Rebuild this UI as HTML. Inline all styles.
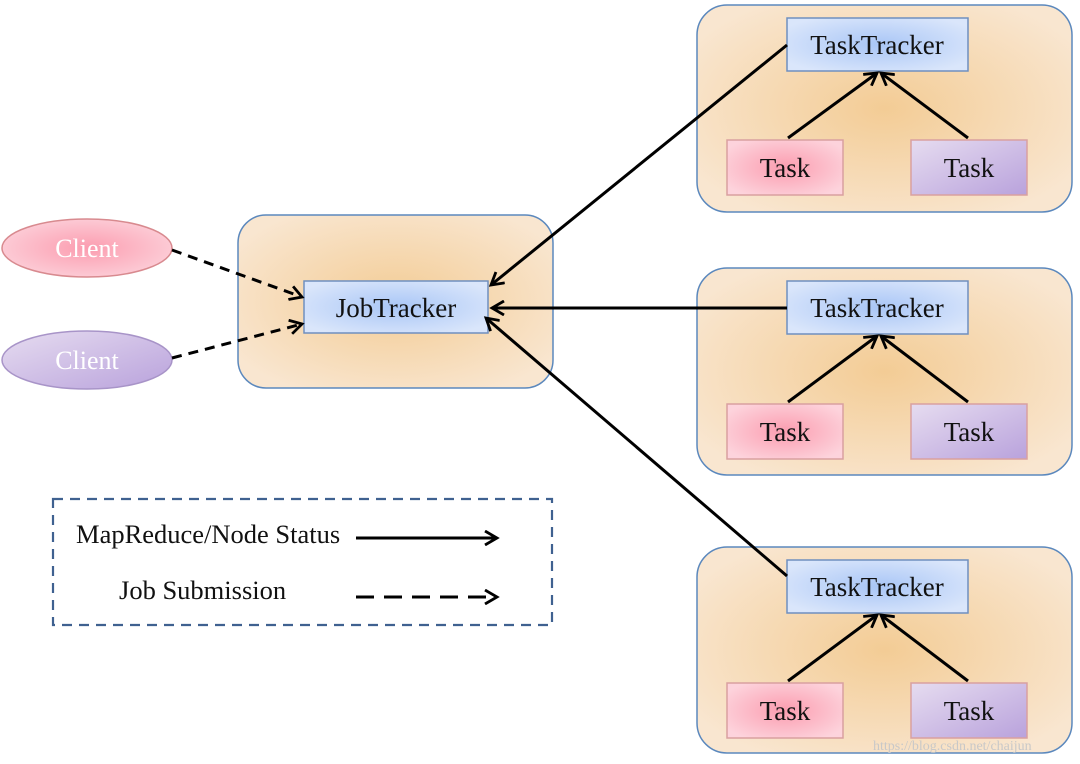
<!DOCTYPE html>
<html><head><meta charset="utf-8"><style>
html,body{margin:0;padding:0;background:#fff;}
svg{display:block;}
text{font-family:"Liberation Serif",serif;}
</style></head><body>
<svg width="1080" height="764" viewBox="0 0 1080 764" xmlns="http://www.w3.org/2000/svg">
<defs>
<radialGradient id="cont" cx="50%" cy="50%" r="60%">
<stop offset="0" stop-color="#f3cc95"/><stop offset="1" stop-color="#f9e6d0"/>
</radialGradient>
<radialGradient id="blue" cx="50%" cy="50%" r="60%">
<stop offset="0" stop-color="#a9c6f6"/><stop offset="1" stop-color="#dae6fb"/>
</radialGradient>
<radialGradient id="pink" cx="50%" cy="50%" r="60%">
<stop offset="0" stop-color="#fb9db0"/><stop offset="1" stop-color="#fdd3dc"/>
</radialGradient>
<linearGradient id="purp" x1="0" y1="0" x2="1" y2="1">
<stop offset="0" stop-color="#e6dcf0"/><stop offset="1" stop-color="#b9a2dc"/>
</linearGradient>
<marker id="ah" markerWidth="16" markerHeight="16" refX="13" refY="8" orient="auto" markerUnits="userSpaceOnUse">
<path d="M1,1 L13,8 L1,15" fill="none" stroke="#000" stroke-width="2.8"/>
</marker>
</defs>

<rect x="238" y="215" width="315" height="173" rx="28" fill="url(#cont)" stroke="#5b88bd" stroke-width="1.5"/>
<rect x="697" y="5" width="375" height="207" rx="30" fill="url(#cont)" stroke="#5b88bd" stroke-width="1.5"/>
<rect x="697" y="268" width="375" height="207" rx="30" fill="url(#cont)" stroke="#5b88bd" stroke-width="1.5"/>
<rect x="697" y="547" width="375" height="206" rx="30" fill="url(#cont)" stroke="#5b88bd" stroke-width="1.5"/>

<ellipse cx="87" cy="248" rx="85" ry="29" fill="url(#pink)" stroke="#d88a8f" stroke-width="1.5"/>
<text x="87" y="257" font-size="26" fill="#fff" text-anchor="middle">Client</text>
<ellipse cx="87" cy="360" rx="85" ry="29" fill="url(#purp)" stroke="#a894c8" stroke-width="1.5"/>
<text x="87" y="369" font-size="26" fill="#fff" text-anchor="middle">Client</text>

<rect x="304" y="281" width="184" height="52" fill="url(#blue)" stroke="#6f8fbf" stroke-width="1.5"/>
<text x="396" y="317" font-size="27" text-anchor="middle" fill="#111">JobTracker</text>

<g>
<rect x="787" y="18" width="181" height="53" fill="url(#blue)" stroke="#6f8fbf" stroke-width="1.5"/>
<text x="877" y="54" font-size="27" text-anchor="middle" fill="#111">TaskTracker</text>
<rect x="727" y="140" width="116" height="55" fill="url(#pink)" stroke="#d9a0a0" stroke-width="1.5"/>
<text x="785" y="177" font-size="27" text-anchor="middle" fill="#111">Task</text>
<rect x="911" y="140" width="116" height="55" fill="url(#purp)" stroke="#d9a0a0" stroke-width="1.5"/>
<text x="969" y="177" font-size="27" text-anchor="middle" fill="#111">Task</text>
<line x1="788" y1="138" x2="877" y2="73" stroke="#000" stroke-width="3" marker-end="url(#ah)"/>
<line x1="968" y1="138" x2="881" y2="73" stroke="#000" stroke-width="3" marker-end="url(#ah)"/>
</g>
<g transform="translate(0,263)">
<rect x="787" y="18" width="181" height="53" fill="url(#blue)" stroke="#6f8fbf" stroke-width="1.5"/>
<text x="877" y="54" font-size="27" text-anchor="middle" fill="#111">TaskTracker</text>
<rect x="727" y="141" width="116" height="55" fill="url(#pink)" stroke="#d9a0a0" stroke-width="1.5"/>
<text x="785" y="178" font-size="27" text-anchor="middle" fill="#111">Task</text>
<rect x="911" y="141" width="116" height="55" fill="url(#purp)" stroke="#d9a0a0" stroke-width="1.5"/>
<text x="969" y="178" font-size="27" text-anchor="middle" fill="#111">Task</text>
<line x1="788" y1="139" x2="877" y2="73" stroke="#000" stroke-width="3" marker-end="url(#ah)"/>
<line x1="968" y1="139" x2="881" y2="73" stroke="#000" stroke-width="3" marker-end="url(#ah)"/>
</g>
<g transform="translate(0,542)">
<rect x="787" y="18" width="181" height="53" fill="url(#blue)" stroke="#6f8fbf" stroke-width="1.5"/>
<text x="877" y="54" font-size="27" text-anchor="middle" fill="#111">TaskTracker</text>
<rect x="727" y="141" width="116" height="55" fill="url(#pink)" stroke="#d9a0a0" stroke-width="1.5"/>
<text x="785" y="178" font-size="27" text-anchor="middle" fill="#111">Task</text>
<rect x="911" y="141" width="116" height="55" fill="url(#purp)" stroke="#d9a0a0" stroke-width="1.5"/>
<text x="969" y="178" font-size="27" text-anchor="middle" fill="#111">Task</text>
<line x1="788" y1="139" x2="877" y2="73" stroke="#000" stroke-width="3" marker-end="url(#ah)"/>
<line x1="968" y1="139" x2="881" y2="73" stroke="#000" stroke-width="3" marker-end="url(#ah)"/>
</g>

<line x1="787" y1="45" x2="491" y2="285" stroke="#000" stroke-width="3" marker-end="url(#ah)"/>
<line x1="787" y1="308" x2="492" y2="308" stroke="#000" stroke-width="3" marker-end="url(#ah)"/>
<line x1="787" y1="576" x2="486" y2="318" stroke="#000" stroke-width="3" marker-end="url(#ah)"/>
<line x1="172" y1="250" x2="302" y2="297" stroke="#000" stroke-width="3" stroke-dasharray="10,7" marker-end="url(#ah)"/>
<line x1="172" y1="358" x2="302" y2="324" stroke="#000" stroke-width="3" stroke-dasharray="10,7" marker-end="url(#ah)"/>

<rect x="53" y="499" width="499" height="126" fill="none" stroke="#3f6190" stroke-width="2.2" stroke-dasharray="10,7"/>
<text x="76" y="543" font-size="26.5" fill="#111">MapReduce/Node Status</text>
<text x="119" y="599" font-size="26.5" fill="#111">Job Submission</text>
<line x1="356" y1="538" x2="497" y2="538" stroke="#000" stroke-width="3" marker-end="url(#ah)"/>
<line x1="356" y1="597" x2="497" y2="597" stroke="#000" stroke-width="3" stroke-dasharray="18,10" marker-end="url(#ah)"/>

<text x="873" y="750" font-size="14" fill="#c8c8c8" font-family="Liberation Sans, sans-serif">https://blog.csdn.net/chaijun</text>
</svg>
</body></html>
